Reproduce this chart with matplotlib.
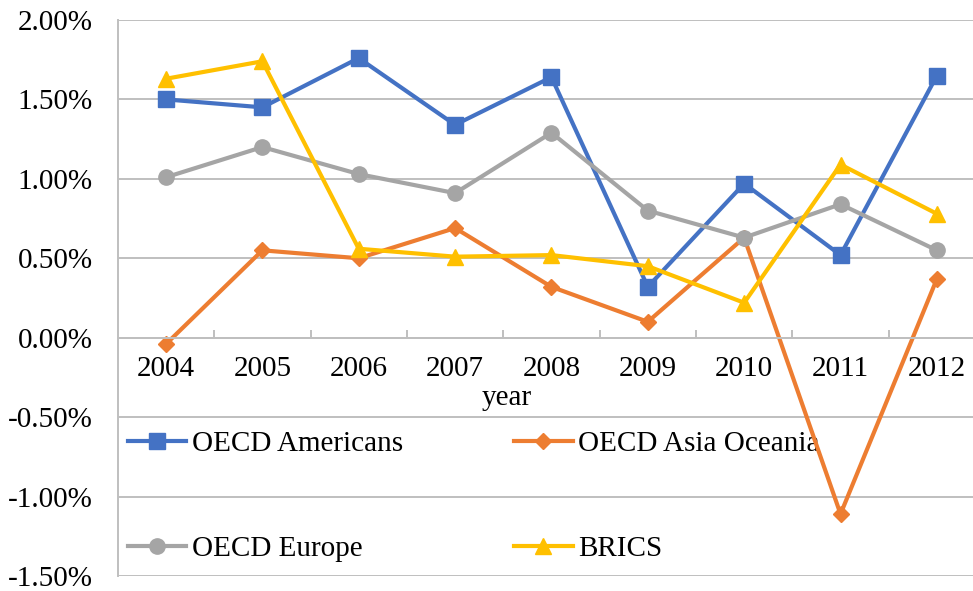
import matplotlib
matplotlib.use('Agg')
import matplotlib.pyplot as plt
from matplotlib.ticker import FuncFormatter, FixedLocator

years = ['2004', '2005', '2006', '2007', '2008', '2009', '2010', '2011', '2012']

# growth rates in percent
oecd_americans = [1.50, 1.45, 1.76, 1.34, 1.64, 0.32, 0.97, 0.52, 1.65]
oecd_asia_oceania = [-0.04, 0.55, 0.50, 0.69, 0.32, 0.10, 0.63, -1.11, 0.37]
oecd_europe = [1.01, 1.20, 1.03, 0.91, 1.29, 0.80, 0.63, 0.84, 0.55]
brics = [1.63, 1.74, 0.56, 0.51, 0.52, 0.45, 0.22, 1.09, 0.78]

plt.rcParams['font.family'] = ['Liberation Serif', 'DejaVu Serif']
fs = 21

fig = plt.figure(figsize=(9.73, 5.91), dpi=100)
ax = fig.add_axes([0.1211, 0.0254, 0.8913, 0.9408])

x = list(range(len(years)))
lw = 3
l1, = ax.plot(x, oecd_americans, color='#4472C4', lw=lw, marker='s', ms=11, label='OECD Americans')
l2, = ax.plot(x, oecd_asia_oceania, color='#ED7D31', lw=lw, marker='D', ms=8, label='OECD Asia Oceania')
l3, = ax.plot(x, oecd_europe, color='#A5A5A5', lw=lw, marker='o', ms=11, label='OECD Europe')
l4, = ax.plot(x, brics, color='#FFC000', lw=lw, marker='^', ms=12, label='BRICS')

ax.set_xlim(-0.5, len(years) - 0.5)
ax.set_ylim(-1.5, 2.0)
ax.set_yticks([-1.5, -1.0, -0.5, 0.0, 0.5, 1.0, 1.5, 2.0])
ax.yaxis.set_major_formatter(FuncFormatter(lambda v, p: f'{v:.2f}%'))
ax.grid(axis='y', color='#BFBFBF', lw=1.4)
ax.set_axisbelow(True)

# category axis sits on the zero line
for s in ['top', 'right']:
    ax.spines[s].set_visible(False)
ax.spines['bottom'].set_position(('data', 0))
ax.spines['bottom'].set_color('#BFBFBF')
ax.spines['bottom'].set_linewidth(1.4)
ax.spines['left'].set_color('#BFBFBF')
ax.spines['left'].set_linewidth(1.4)

ax.set_xticks(x)
ax.set_xticklabels(years)
ax.xaxis.set_minor_locator(FixedLocator([i + 0.5 for i in x[:-1]]))
ax.tick_params(axis='x', which='major', length=0, pad=13, labelsize=fs)
ax.tick_params(axis='x', which='minor', direction='in', length=6, width=1.4, color='#BFBFBF')
ax.tick_params(axis='y', length=0, pad=18, labelsize=fs)

ax.text(3.54, -0.38, 'year', ha='center', va='center', fontsize=fs)

# legend filled row by row: Americans, Asia Oceania / Europe, BRICS
leg = ax.legend([l1, l3, l2, l4], [l.get_label() for l in (l1, l3, l2, l4)],
                loc='upper left', bbox_to_anchor=(0.0118, 0.261), ncol=2, frameon=False,
                fontsize=fs, borderaxespad=0, borderpad=0, handlelength=2.0,
                handletextpad=0.2, columnspacing=3.8, labelspacing=2.7)
leg.set_zorder(1)

fig.savefig('out.png', dpi=100)
